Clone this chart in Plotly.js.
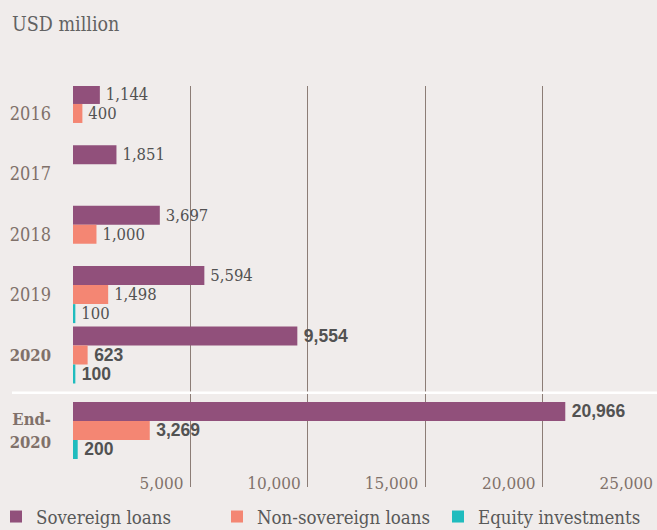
<!DOCTYPE html>
<html>
<head>
<meta charset="utf-8">
<script src="https://cdn.plot.ly/plotly-3.0.1.min.js"></script>
<style>
html,body{margin:0;padding:0;background:#f0eceb;overflow:hidden;}
#chart{width:660px;height:530px;}
</style>
</head>
<body>
<div id="chart"></div>
<script>
// ---- data ----
const categories = ['2016', '2017', '2018', '2019', '2020', 'End-2020'];
const categoryLabels = ['2016', '2017', '2018', '2019', '<span style="font-size:16.5px"><b>2020</b></span>', '<span style="font-size:16.5px"><b>End-<br>2020</b></span>'];
const sovereignLoans = [1144, 1851, 3697, 5594, 9554, 20966];
const nonSovereignLoans = [400, null, 1000, 1498, 623, 3269];
const equityInvestments = [null, null, null, 100, 100, 200];
const xTickValues = [5000, 10000, 15000, 20000, 25000];
const seriesNames = ['Sovereign loans', 'Non-sovereign loans', 'Equity investments'];

// ---- layout helpers ----
const catPos = categories.map((c, i) => i < 5 ? i : 5.25);
const highlighted = categories.map(c => c === '2020' || c === 'End-2020');
const serif = 'DejaVu Serif Condensed, DejaVu Serif';
const textFont = {
  family: highlighted.map(h => h ? 'Liberation Sans' : serif),
  size: highlighted.map(h => h ? 17.5 : 16.5),
  weight: highlighted.map(h => h ? 700 : 400),
  color: '#525252'
};
const colors = ['#91507b', '#f48673', '#20bcbe'];

function mk(values, idx, lw) {
  const t = {
    type: 'bar', orientation: 'h',
    name: seriesNames[idx],
    x: values, y: catPos,
    marker: {color: colors[idx], line: {width: 0}},
    texttemplate: '\u2009%{x:,}',
    textposition: 'outside',
    constraintext: 'none',
    cliponaxis: false,
    textfont: textFont,
    hoverinfo: 'skip'
  };
  if (lw) t.legendwidth = lw;
  return t;
}

const data = [
  mk(sovereignLoans, 0, 176),
  mk(nonSovereignLoans, 1, 176),
  mk(equityInvestments, 2, null)
];

const plotL = 73, plotW = 587;
const layout = {
  width: 660, height: 530,
  paper_bgcolor: '#f0eceb', plot_bgcolor: '#f0eceb',
  margin: {l: plotL, r: 0, t: 86, b: 43, autoexpand: false},
  title: {
    text: 'USD million', xref: 'container', yref: 'container',
    x: 12 / 660, xanchor: 'left', y: 1 - 24 / 530, yanchor: 'middle',
    font: {family: serif, size: 19.5, color: '#626262'}
  },
  barmode: 'group', bargap: 0.056, bargroupgap: 0,
  xaxis: {
    range: [0, 25000], tickvals: xTickValues, tickformat: ',d',
    ticklabelposition: 'inside left', ticks: '',
    ticklabelshift: -7, ticklabelstandoff: -11,
    showgrid: true, gridcolor: '#8c7d76', gridwidth: 1,
    zeroline: false, showline: false, fixedrange: true,
    tickfont: {family: serif, size: 17, color: '#80716a'}
  },
  yaxis: {
    range: [6.186, -0.455], tickvals: catPos, ticktext: categoryLabels,
    ticks: '', showgrid: false, zeroline: false, showline: false, fixedrange: true,
    ticklabelstandoff: 21,
    tickfont: {family: serif, size: 18, color: '#80716a'}
  },
  showlegend: true,
  legend: {
    orientation: 'h', x: (-4 - plotL) / plotW, xanchor: 'left',
    y: (487 - 498) / 401, yanchor: 'top',
    font: {family: serif, size: 18.5, color: '#595959'},
    bgcolor: 'rgba(0,0,0,0)', traceorder: 'normal'
  },
  shapes: [{
    type: 'line', xref: 'paper', yref: 'y',
    x0: (12 - plotL) / plotW, x1: 1, y0: 4.625, y1: 4.625,
    line: {color: '#ffffff', width: 2.5}
  }]
};

Plotly.newPlot('chart', data, layout, {displayModeBar: false, staticPlot: true});
</script>
</body>
</html>
